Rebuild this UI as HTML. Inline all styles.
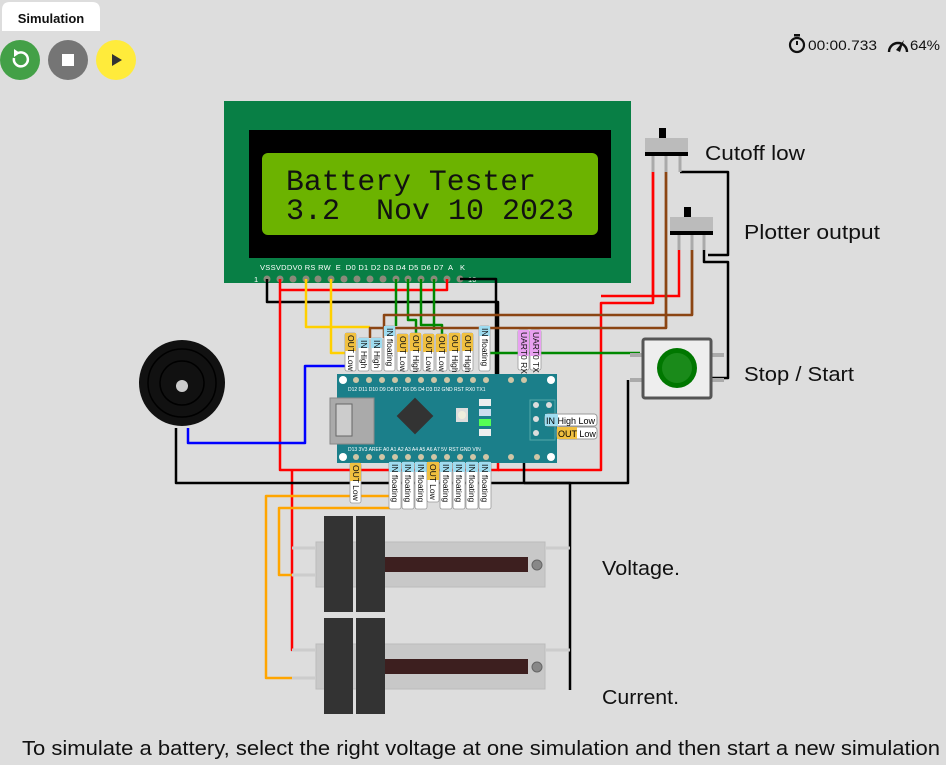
<!DOCTYPE html>
<html><head><meta charset="utf-8"><style>
html,body{margin:0;padding:0;background:#dddddd;width:946px;height:765px;overflow:hidden}
svg{display:block}
text{font-family:"Liberation Sans",sans-serif}
text.mono{font-family:"Liberation Mono",monospace}
</style></head><body>
<svg width="946" height="765" viewBox="0 0 946 765" xmlns="http://www.w3.org/2000/svg">
<rect width="946" height="765" fill="#dddddd"/>
<!-- tab -->
<path d="M2 31 V10 Q2 2 10 2 H92 Q100 2 100 10 V31 Z" fill="#fff"/>
<text x="51" y="23" font-size="13" font-weight="bold" text-anchor="middle" fill="#111">Simulation</text>
<circle cx="20" cy="60" r="20" fill="#43a047"/>
<path d="M14 58 A7 7 0 1 0 18 53" fill="none" stroke="#fff" stroke-width="2.5"/>
<path d="M14 49 L20 53 L14 57 Z" fill="#fff"/>
<circle cx="68" cy="60" r="20" fill="#757575"/>
<rect x="62" y="54" width="12" height="12" fill="#fff"/>
<circle cx="116" cy="60" r="20" fill="#ffeb3b"/>
<path d="M112 54 L122 60 L112 66 Z" fill="#333"/>
<!-- timer -->
<circle cx="797" cy="45" r="7" fill="none" stroke="#111" stroke-width="2.2"/>
<rect x="794" y="34" width="6" height="2.5" fill="#111"/>
<line x1="797" y1="45" x2="797" y2="41" stroke="#111" stroke-width="2"/>
<text x="808" y="50" font-size="14" fill="#111" textLength="69" lengthAdjust="spacingAndGlyphs">00:00.733</text>
<path d="M889 52 A9 9 0 1 1 907 52" fill="none" stroke="#111" stroke-width="2.4"/>
<path d="M896 50 L904 40 L900 52 Z" fill="#111"/>
<text x="910" y="50" font-size="14" fill="#111" textLength="30" lengthAdjust="spacingAndGlyphs">64%</text>

<!-- LCD -->
<rect x="224" y="101" width="407" height="182" fill="#087f45"/>
<rect x="249" y="130" width="362" height="128" fill="#000"/>
<rect x="262" y="153" width="336" height="82" rx="6" fill="#6cb300"/>
<text class="mono" x="286" y="190" font-size="30" fill="#111" textLength="250" lengthAdjust="spacingAndGlyphs">Battery Tester</text>
<text class="mono" x="286" y="219" font-size="30" fill="#111" textLength="288" lengthAdjust="spacingAndGlyphs" xml:space="preserve">3.2  Nov 10 2023</text>
<g font-size="7.5" fill="#fff">
<text x="260" y="270" textLength="205" lengthAdjust="spacing" xml:space="preserve">VSSVDDV0 RS RW  E  D0 D1 D2 D3 D4 D5 D6 D7  A   K</text>
<text x="254" y="282">1</text><text x="468" y="282">16</text>
</g>
<g fill="#8a8a7a">
<circle cx="267" cy="279" r="3.5"/><circle cx="280" cy="279" r="3.5"/><circle cx="293" cy="279" r="3.5"/><circle cx="306" cy="279" r="3.5"/><circle cx="318" cy="279" r="3.5"/><circle cx="331" cy="279" r="3.5"/><circle cx="344" cy="279" r="3.5"/><circle cx="357" cy="279" r="3.5"/><circle cx="370" cy="279" r="3.5"/><circle cx="383" cy="279" r="3.5"/><circle cx="396" cy="279" r="3.5"/><circle cx="408" cy="279" r="3.5"/><circle cx="421" cy="279" r="3.5"/><circle cx="434" cy="279" r="3.5"/><circle cx="447" cy="279" r="3.5"/><circle cx="460" cy="279" r="3.5"/>
</g>

<!-- wires -->
<g fill="none" stroke-width="2.5" stroke-linejoin="round">
<path d="M267 279 V302 H498 V385" stroke="#000"/>
<path d="M460 279 H496 V385" stroke="#000"/>
<path d="M280 279 V470 H498 V455" stroke="#f00"/>
<path d="M280 290 H447 V279" stroke="#f00"/>
<path d="M498 470 H601 V303 H653 V172" stroke="#f00"/>
<path d="M292 470 V650 H316" stroke="#f00"/>
<path d="M306 279 V327 H370" stroke="#ffd000"/>
<path d="M331 279 V353 H345" stroke="#ffd000"/>
<path d="M396 279 V326" stroke="#080"/>
<path d="M408 279 V320 H416 V334" stroke="#080"/>
<path d="M421 279 V325 H442 V334" stroke="#080"/>
<path d="M434 279 V330" stroke="#080"/>
<path d="M666 172 V328 H370 V338" stroke="#8b4513"/>
<path d="M692 250 V315 H384 V338" stroke="#8b4513"/>
<path d="M487 353 H640" stroke="#080"/>
<path d="M345 366 H305 V443 H188 V428" stroke="#00f"/>
<path d="M176 428 V483 H570 V690" stroke="#000"/>
<path d="M524 455 V483" stroke="#000"/>
<path d="M628 380 V483 H524" stroke="#000"/>
<path d="M680 172 H728 V255 H708" stroke="#000"/>
<path d="M704 250 V262 H728 V378 H712" stroke="#000"/>
<path d="M390 508 H279 V575 H292" stroke="#ffa500"/>
<path d="M390 496 H266 V678 H292" stroke="#ffa500"/>
</g>

<!-- buzzer -->
<circle cx="182" cy="383" r="43" fill="#111"/>
<circle cx="182" cy="383" r="34" fill="none" stroke="#000" stroke-width="1.5"/>
<circle cx="182" cy="383" r="22" fill="none" stroke="#000" stroke-width="1.5"/>
<circle cx="182" cy="386" r="6" fill="#ccc"/>

<!-- arduino -->
<rect x="337" y="374" width="220" height="89" fill="#1b7f8a"/>
<circle cx="343" cy="380" r="4" fill="#fff"/><circle cx="551" cy="380" r="4" fill="#fff"/>
<circle cx="343" cy="457" r="4" fill="#fff"/><circle cx="551" cy="457" r="4" fill="#fff"/>
<rect x="330" y="398" width="44" height="46" fill="#aaa" stroke="#888"/>
<rect x="336" y="404" width="16" height="32" fill="#ccc" stroke="#666"/>
<rect x="402" y="403" width="26" height="26" fill="#333" transform="rotate(45 415 416)"/>
<rect x="456" y="408" width="12" height="14" fill="#ddd"/><circle cx="462" cy="415" r="4" fill="#eed"/>
<rect x="479" y="399" width="12" height="7" fill="#eee"/><rect x="479" y="409" width="12" height="7" fill="#cde"/>
<rect x="479" y="419" width="12" height="7" fill="#5f5"/><rect x="479" y="429" width="12" height="7" fill="#eee"/>
<rect x="530" y="400" width="25" height="40" fill="none" stroke="#5aa"/>
<g fill="#ddd"><circle cx="536" cy="405" r="3"/><circle cx="549" cy="405" r="3"/><circle cx="536" cy="419" r="3"/><circle cx="536" cy="433" r="3"/></g>
<g fill="#cfc6a6">
<circle cx="356" cy="380" r="3"/><circle cx="369" cy="380" r="3"/><circle cx="382" cy="380" r="3"/><circle cx="395" cy="380" r="3"/><circle cx="408" cy="380" r="3"/><circle cx="421" cy="380" r="3"/><circle cx="434" cy="380" r="3"/><circle cx="447" cy="380" r="3"/><circle cx="460" cy="380" r="3"/><circle cx="473" cy="380" r="3"/><circle cx="486" cy="380" r="3"/><circle cx="511" cy="380" r="3"/><circle cx="524" cy="380" r="3"/>
<circle cx="356" cy="457" r="3"/><circle cx="369" cy="457" r="3"/><circle cx="382" cy="457" r="3"/><circle cx="395" cy="457" r="3"/><circle cx="408" cy="457" r="3"/><circle cx="421" cy="457" r="3"/><circle cx="434" cy="457" r="3"/><circle cx="447" cy="457" r="3"/><circle cx="460" cy="457" r="3"/><circle cx="473" cy="457" r="3"/><circle cx="486" cy="457" r="3"/><circle cx="511" cy="457" r="3"/><circle cx="537" cy="457" r="3"/>
</g>
<g font-size="5" fill="#fff">
<text x="348" y="391">D12 D11 D10  D9  D8  D7  D6  D5  D4  D3  D2 GND RST RX0 TX1</text>
<text x="348" y="451">D13 3V3 AREF A0  A1  A2  A3  A4  A5  A6  A7  5V RST GND VIN</text>
</g>
<rect x="545" y="414" width="52" height="12" rx="3" fill="#fff" stroke="#999"/>
<rect x="545" y="414" width="13" height="12" fill="#9fdcf0"/>
<text x="546" y="424" font-size="9">IN High Low</text>
<rect x="557" y="427" width="40" height="12" rx="3" fill="#fff" stroke="#999"/>
<rect x="557" y="427" width="20" height="12" fill="#f0c040"/>
<text x="558" y="437" font-size="9">OUT Low</text>

<!-- vertical tags -->
<g font-size="8.5" fill="#111" stroke-width="0.8">
<g transform="translate(345,333)"><rect width="11" height="38" rx="2" fill="#fff" stroke="#999"/><rect width="11" height="18" fill="#f0c040"/><text transform="translate(3,2) rotate(90)">OUT Low</text></g>
<g transform="translate(358,338)"><rect width="11" height="33" rx="2" fill="#fff" stroke="#999"/><rect width="11" height="10" fill="#9fdcf0"/><text transform="translate(3,2) rotate(90)">IN High</text></g>
<g transform="translate(371,338)"><rect width="11" height="33" rx="2" fill="#fff" stroke="#999"/><rect width="11" height="10" fill="#9fdcf0"/><text transform="translate(3,2) rotate(90)">IN High</text></g>
<g transform="translate(384,326)"><rect width="11" height="45" rx="2" fill="#fff" stroke="#999"/><rect width="11" height="10" fill="#9fdcf0"/><text transform="translate(3,2) rotate(90)">IN floating</text></g>
<g transform="translate(397,334)"><rect width="11" height="37" rx="2" fill="#fff" stroke="#999"/><rect width="11" height="18" fill="#f0c040"/><text transform="translate(3,2) rotate(90)">OUT Low</text></g>
<g transform="translate(410,333)"><rect width="11" height="38" rx="2" fill="#fff" stroke="#999"/><rect width="11" height="18" fill="#f0c040"/><text transform="translate(3,2) rotate(90)">OUT High</text></g>
<g transform="translate(423,334)"><rect width="11" height="37" rx="2" fill="#fff" stroke="#999"/><rect width="11" height="18" fill="#f0c040"/><text transform="translate(3,2) rotate(90)">OUT Low</text></g>
<g transform="translate(436,334)"><rect width="11" height="37" rx="2" fill="#fff" stroke="#999"/><rect width="11" height="18" fill="#f0c040"/><text transform="translate(3,2) rotate(90)">OUT Low</text></g>
<g transform="translate(449,333)"><rect width="11" height="38" rx="2" fill="#fff" stroke="#999"/><rect width="11" height="18" fill="#f0c040"/><text transform="translate(3,2) rotate(90)">OUT High</text></g>
<g transform="translate(462,333)"><rect width="11" height="38" rx="2" fill="#fff" stroke="#999"/><rect width="11" height="18" fill="#f0c040"/><text transform="translate(3,2) rotate(90)">OUT High</text></g>
<g transform="translate(479,326)"><rect width="11" height="45" rx="2" fill="#fff" stroke="#999"/><rect width="11" height="10" fill="#9fdcf0"/><text transform="translate(3,2) rotate(90)">IN floating</text></g>
<g transform="translate(518,330)"><rect width="11" height="40" rx="2" fill="#fff" stroke="#999"/><rect width="11" height="26" fill="#e8a0f0"/><text transform="translate(3,2) rotate(90)">UART0 RX</text></g>
<g transform="translate(530,330)"><rect width="11" height="40" rx="2" fill="#fff" stroke="#999"/><rect width="11" height="26" fill="#e8a0f0"/><text transform="translate(3,2) rotate(90)">UART0 TX</text></g>
<g transform="translate(350,463)"><rect width="11" height="40" rx="2" fill="#fff" stroke="#999"/><rect width="11" height="18" fill="#f0c040"/><text transform="translate(3,2) rotate(90)">OUT Low</text></g>
<g transform="translate(389,462)"><rect width="12" height="47" rx="2" fill="#fff" stroke="#999"/><rect width="12" height="10" fill="#9fdcf0"/><text transform="translate(3,2) rotate(90)">IN floating</text></g>
<g transform="translate(402,462)"><rect width="12" height="47" rx="2" fill="#fff" stroke="#999"/><rect width="12" height="10" fill="#9fdcf0"/><text transform="translate(3,2) rotate(90)">IN floating</text></g>
<g transform="translate(415,462)"><rect width="12" height="47" rx="2" fill="#fff" stroke="#999"/><rect width="12" height="10" fill="#9fdcf0"/><text transform="translate(3,2) rotate(90)">IN floating</text></g>
<g transform="translate(427,462)"><rect width="12" height="40" rx="2" fill="#fff" stroke="#999"/><rect width="12" height="18" fill="#f0c040"/><text transform="translate(3,2) rotate(90)">OUT Low</text></g>
<g transform="translate(440,462)"><rect width="12" height="47" rx="2" fill="#fff" stroke="#999"/><rect width="12" height="10" fill="#9fdcf0"/><text transform="translate(3,2) rotate(90)">IN floating</text></g>
<g transform="translate(453,462)"><rect width="12" height="47" rx="2" fill="#fff" stroke="#999"/><rect width="12" height="10" fill="#9fdcf0"/><text transform="translate(3,2) rotate(90)">IN floating</text></g>
<g transform="translate(466,462)"><rect width="12" height="47" rx="2" fill="#fff" stroke="#999"/><rect width="12" height="10" fill="#9fdcf0"/><text transform="translate(3,2) rotate(90)">IN floating</text></g>
<g transform="translate(479,462)"><rect width="12" height="47" rx="2" fill="#fff" stroke="#999"/><rect width="12" height="10" fill="#9fdcf0"/><text transform="translate(3,2) rotate(90)">IN floating</text></g>
</g>

<!-- switches -->
<g stroke="#aaa" stroke-width="3"><line x1="653" y1="153" x2="653" y2="172"/><line x1="666" y1="153" x2="666" y2="172"/><line x1="680" y1="153" x2="680" y2="172"/>
<line x1="679" y1="232" x2="679" y2="250"/><line x1="692" y1="232" x2="692" y2="250"/><line x1="704" y1="232" x2="704" y2="250"/></g>
<rect x="659" y="128" width="7" height="10" fill="#000"/>
<rect x="645" y="138" width="43" height="15" fill="#bbb"/>
<rect x="645" y="152" width="43" height="4" fill="#000"/>
<rect x="684" y="207" width="7" height="10" fill="#000"/>
<rect x="670" y="217" width="43" height="15" fill="#bbb"/>
<rect x="670" y="231" width="43" height="4" fill="#000"/>
<g fill="none" stroke-width="2.5"><path d="M653 172 V300" stroke="#f00"/><path d="M679 250 V296 H601" stroke="#f00"/><path d="M666 172 V328" stroke="#8b4513"/><path d="M692 250 V315" stroke="#8b4513"/></g>
<!-- button -->
<g stroke="#aaa" stroke-width="4"><line x1="630" y1="355" x2="642" y2="355"/><line x1="630" y1="380" x2="642" y2="380"/><line x1="712" y1="355" x2="724" y2="355"/><line x1="712" y1="380" x2="724" y2="380"/></g>
<rect x="643" y="339" width="68" height="59" fill="#eee" stroke="#555" stroke-width="3" rx="2"/>
<circle cx="677" cy="368" r="20" fill="#070"/><circle cx="677" cy="368" r="15" fill="#1a8a1a"/>

<!-- pots -->
<g>
<rect x="316" y="542" width="229" height="45" fill="#c8c8c8" stroke="#bbb"/>
<rect x="385" y="557" width="143" height="15" fill="#3d1f1f"/>
<circle cx="537" cy="565" r="5" fill="#888" stroke="#666"/>
<line x1="292" y1="548" x2="316" y2="548" stroke="#ccc" stroke-width="3"/><line x1="292" y1="575" x2="316" y2="575" stroke="#ccc" stroke-width="3"/><line x1="545" y1="548" x2="570" y2="548" stroke="#ccc" stroke-width="3"/>
<rect x="324" y="516" width="29" height="96" fill="#333"/><rect x="356" y="516" width="29" height="96" fill="#333"/>
<rect x="316" y="644" width="229" height="45" fill="#c8c8c8" stroke="#bbb"/>
<rect x="385" y="659" width="143" height="15" fill="#3d1f1f"/>
<circle cx="537" cy="667" r="5" fill="#888" stroke="#666"/>
<line x1="292" y1="650" x2="316" y2="650" stroke="#ccc" stroke-width="3"/><line x1="292" y1="678" x2="316" y2="678" stroke="#ccc" stroke-width="3"/><line x1="545" y1="650" x2="570" y2="650" stroke="#ccc" stroke-width="3"/>
<rect x="324" y="618" width="29" height="96" fill="#333"/><rect x="356" y="618" width="29" height="96" fill="#333"/>
</g>

<!-- labels -->
<g font-size="20" fill="#111">
<text x="705" y="160" textLength="100" lengthAdjust="spacingAndGlyphs">Cutoff low</text>
<text x="744" y="239" textLength="136" lengthAdjust="spacingAndGlyphs">Plotter output</text>
<text x="744" y="381" textLength="110" lengthAdjust="spacingAndGlyphs">Stop / Start</text>
<text x="602" y="575" textLength="78" lengthAdjust="spacingAndGlyphs">Voltage.</text>
<text x="602" y="704" textLength="77" lengthAdjust="spacingAndGlyphs">Current.</text>
<text x="22" y="755" textLength="918" lengthAdjust="spacingAndGlyphs">To simulate a battery, select the right voltage at one simulation and then start a new simulation</text>
</g>
</svg>
</body></html>
